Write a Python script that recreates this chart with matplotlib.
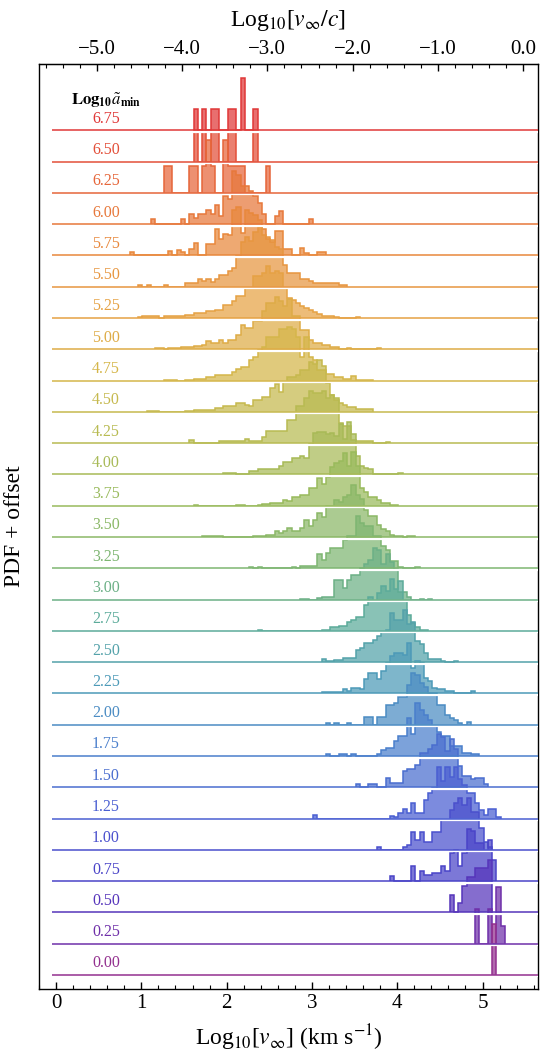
import numpy as np
import matplotlib
matplotlib.use("Agg")
import matplotlib.pyplot as plt
from matplotlib.colors import LinearSegmentedColormap
from matplotlib.ticker import MultipleLocator, FuncFormatter

plt.rcParams['font.family'] = 'serif'
plt.rcParams['font.serif'] = ['Liberation Serif', 'DejaVu Serif']
plt.rcParams['mathtext.fontset'] = 'stix'

# ---------------- data ----------------
# Each row: first bin left edge (Log10 v_inf) and histogram heights (PDF, arbitrary units)
BIN_WIDTH = 0.05

start_000 = 5.1125
pdf_000 = [51]
start_025 = 4.9125
pdf_025 = [35, 0, 0, 35, 0, 57, 18]
start_050 = 4.6125
pdf_050 = [17, 0, 9, 26, 35, 35, 44, 44, 44, 52]
start_075 = 3.9125
pdf_075 = [5, 0, 0, 0, 0, 15, 0, 10, 6, 6, 8, 8, 15, 10, 28, 31, 15, 28, 52, 50, 38, 38, 30, 41, 21]
start_100 = 3.7625
pdf_100 = [3, 0, 0, 0, 0, 0, 3, 5, 18, 10, 18, 8, 8, 18, 18, 30, 30, 40, 47, 52, 45, 52, 38, 38, 22, 8, 3]
start_125 = 3.0125
pdf_125 = [4, 0, 0, 0, 0, 0, 0, 0, 0, 0, 0, 0, 0, 0, 0, 0, 0, 0, 3, 2, 6, 10, 6, 16, 6, 6, 19, 26, 31,
           52, 38, 52, 42, 52, 40, 34, 26, 26, 16, 9, 4, 10, 10, 2]
start_150 = 3.5125
pdf_150 = [3, 0, 0, 3, 3, 0, 0, 9, 4, 4, 4, 16, 18, 18, 22, 34, 34, 38, 42, 53, 50, 36, 48, 38, 21, 11,
           11, 8, 9, 9, 3]
start_175 = 3.1625
pdf_175 = [2, 0, 0, 2, 2, 0, 2, 0, 0, 0, 0, 0, 2, 6, 8, 8, 15, 20, 20, 38, 22, 53, 46, 41, 36, 30, 24,
           20, 20, 10, 10, 10, 3, 3, 2, 2]
start_200 = 3.1625
pdf_200 = [2, 0, 2, 0, 0, 2, 0, 0, 0, 8, 8, 0, 8, 8, 20, 20, 22, 28, 28, 40, 52, 50, 42, 38, 32, 32,
           20, 20, 10, 7, 5, 2, 0, 3]
start_225 = 3.1125
pdf_225 = [1, 1, 1, 1, 1, 4, 2, 5, 5, 4, 14, 20, 20, 14, 22, 30, 37, 40, 40, 38, 50, 25, 32, 30, 15,
           12, 5, 4, 4, 2, 2, 0, 0, 0, 0, 2]
start_250 = 3.1125
pdf_250 = [3, 1, 1, 2, 2, 4, 4, 4, 12, 14, 19, 19, 22, 26, 30, 32, 49, 42, 42, 52, 38, 40, 21, 18, 9,
           3, 3, 3, 1, 0, 0, 1]
start_275 = 2.3625
pdf_275 = [1, 0, 0, 0, 0, 0, 0, 0, 0, 0, 0, 0, 0, 0, 0, 1, 1, 4, 4, 5, 5, 9, 11, 14, 14, 26, 34, 30,
           38, 45, 40, 52, 42, 50, 30, 16, 8, 4, 1, 1]
start_300 = 2.8625
pdf_300 = [1, 1, 0, 0, 2, 3, 3, 3, 20, 20, 12, 20, 25, 25, 32, 36, 40, 52, 50, 36, 46, 38, 31, 8, 8,
           3, 0, 0, 1, 0, 1]
start_325 = 2.2625
pdf_325 = [1, 0, 1, 0, 0, 0, 0, 0, 0, 0, 1, 0, 2, 2, 2, 2, 14, 8, 15, 20, 20, 20, 28, 32, 32, 52, 45,
           42, 42, 32, 32, 22, 18, 7, 7, 1, 0, 0, 0, 1]
start_350 = 1.7125
pdf_350 = [1, 1, 1, 1, 1, 0, 0, 0, 0, 0, 0, 0, 1, 1, 1, 2, 2, 6, 4, 6, 9, 6, 6, 9, 17, 11, 17, 24, 20,
           31, 31, 37, 35, 40, 42, 52, 42, 38, 27, 21, 21, 12, 8, 6, 2, 1, 1, 0, 1, 1]
start_375 = 1.6125
pdf_375 = [1, 0, 0, 0, 0, 0, 0, 0, 0, 0, 1, 1, 0, 0, 0, 1, 2, 2, 3, 3, 3, 6, 5, 9, 9, 11, 11, 18, 18,
           28, 22, 29, 39, 43, 45, 53, 40, 54, 40, 18, 14, 9, 9, 6, 3, 3, 1, 1]
start_400 = 1.9625
pdf_400 = [1, 1, 1, 0, 0, 0, 3, 3, 5, 5, 5, 5, 5, 8, 12, 12, 16, 16, 18, 16, 30, 41, 42, 42, 40, 41,
           38, 50, 35, 52, 40, 18, 8, 6, 5, 0, 0, 0, 0, 0, 0, 1]
start_425 = 1.5625
pdf_425 = [3, 0, 0, 0, 0, 0, 0, 2, 2, 2, 2, 2, 2, 4, 2, 2, 2, 6, 12, 12, 12, 12, 12, 23, 23, 37, 37,
           45, 52, 50, 50, 52, 45, 48, 45, 20, 17, 17, 3, 2, 2, 2, 2, 0, 0, 0, 1]
start_450 = 1.0625
pdf_450 = [1, 1, 1, 0, 0, 0, 0, 0, 0, 1, 1, 2, 2, 2, 2, 2, 4, 4, 6, 6, 6, 9, 9, 7, 6, 12, 12, 15, 15,
           24, 28, 20, 30, 35, 35, 37, 42, 42, 50, 48, 52, 46, 29, 17, 12, 9, 7, 5, 5, 3, 3, 3, 3]
start_475 = 1.2625
pdf_475 = [1, 1, 1, 0, 0, 1, 1, 2, 2, 2, 4, 4, 6, 6, 6, 6, 9, 12, 14, 14, 21, 24, 31, 34, 44, 44, 44,
           52, 52, 54, 52, 44, 24, 44, 24, 21, 11, 11, 7, 7, 4, 4, 2, 2, 5, 1, 1, 1, 1]
start_500 = 1.1625
pdf_500 = [1, 1, 0, 1, 1, 1, 2, 2, 2, 3, 3, 4, 8, 6, 6, 9, 6, 9, 9, 14, 24, 21, 21, 28, 28, 38, 46,
           46, 52, 48, 43, 50, 33, 33, 19, 19, 9, 6, 6, 4, 4, 2, 2, 0, 0, 1, 0, 0, 0, 0, 0, 0, 1]
start_525 = 0.9625
pdf_525 = [1, 2, 2, 2, 2, 0, 2, 2, 2, 2, 2, 3, 3, 5, 5, 5, 7, 7, 8, 8, 13, 13, 17, 22, 22, 30, 30, 42,
           42, 45, 52, 45, 47, 45, 30, 20, 18, 15, 12, 10, 8, 6, 4, 2, 2, 2, 1, 0, 0, 0, 0, 1]
start_550 = 0.9625
pdf_550 = [2, 0, 2, 0, 0, 0, 2, 0, 0, 0, 0, 4, 4, 4, 8, 6, 8, 5, 8, 12, 12, 16, 19, 31, 45, 50, 46,
           55, 60, 52, 50, 47, 40, 38, 22, 14, 14, 14, 8, 8, 6, 4, 4, 4, 4, 4, 4, 2, 2]
start_575 = 0.8625
pdf_575 = [3, 0, 0, 0, 0, 0, 0, 0, 0, 4, 0, 5, 3, 0, 6, 12, 0, 0, 11, 11, 26, 16, 21, 20, 45, 48, 22,
           45, 42, 40, 35, 26, 16, 13, 24, 24, 6, 6, 0, 0, 7, 2, 0, 0, 3, 3]
start_600 = 1.1125
pdf_600 = [5, 0, 0, 0, 0, 0, 0, 5, 0, 10, 6, 10, 10, 14, 10, 19, 8, 28, 25, 53, 49, 38, 38, 33, 28,
           21, 10, 0, 0, 8, 13, 0, 0, 0, 0, 0, 0, 5]
start_625 = 1.2625
pdf_625 = [27, 27, 0, 0, 0, 0, 27, 27, 0, 27, 53, 27, 0, 0, 53, 27, 27, 27, 27, 0, 0, 0, 0, 0, 27]
start_650 = 1.6125
pdf_650 = [31, 0, 31, 0, 31, 31, 0, 0, 31, 31, 0, 0, 0, 0, 31]
start_675 = 1.6125
pdf_675 = [21, 0, 21, 0, 21, 21, 0, 0, 21, 21, 0, 52, 0, 0, 21]

amin_labels = ['0.00', '0.25', '0.50', '0.75', '1.00', '1.25', '1.50', '1.75', '2.00', '2.25',
               '2.50', '2.75', '3.00', '3.25', '3.50', '3.75', '4.00', '4.25', '4.50', '4.75',
               '5.00', '5.25', '5.50', '5.75', '6.00', '6.25', '6.50', '6.75']
starts = [start_000, start_025, start_050, start_075, start_100, start_125, start_150, start_175,
          start_200, start_225, start_250, start_275, start_300, start_325, start_350, start_375,
          start_400, start_425, start_450, start_475, start_500, start_525, start_550, start_575,
          start_600, start_625, start_650, start_675]
pdfs = [pdf_000, pdf_025, pdf_050, pdf_075, pdf_100, pdf_125, pdf_150, pdf_175, pdf_200, pdf_225,
        pdf_250, pdf_275, pdf_300, pdf_325, pdf_350, pdf_375, pdf_400, pdf_425, pdf_450, pdf_475,
        pdf_500, pdf_525, pdf_550, pdf_575, pdf_600, pdf_625, pdf_650, pdf_675]

bottom_ticks = [0, 1, 2, 3, 4, 5]
top_ticks = [-5.0, -4.0, -3.0, -2.0, -1.0, 0.0]
LOG_C = np.log10(299792.458)

# ---------------- style ----------------
PDF_SCALE = 1 / 31.28
XMIN, XMAX = -0.2, 5.65
LINE_X0 = -0.05
cmap = LinearSegmentedColormap.from_list('ridge', [
    (0.000, '#93308f'), (0.037, '#6d30aa'), (0.074, '#5436bd'), (0.111, '#4a44c8'),
    (0.185, '#4a5fd2'), (0.259, '#4a7fcc'), (0.333, '#4d9ab8'), (0.407, '#5cab9a'),
    (0.481, '#7db672'), (0.556, '#99ba5c'), (0.630, '#b7bb52'), (0.704, '#d5b64a'),
    (0.778, '#e6a344'), (0.852, '#e8893c'), (0.926, '#e6683a'), (1.000, '#e03838')])

fig = plt.figure(figsize=(5.40, 10.57), dpi=100)
ax = fig.add_axes([39 / 540, 1 - 989 / 1057, (538 - 39) / 540, (989 - 64) / 1057])

n = len(pdfs)
for k in range(n):
    c = cmap(k / (n - 1))
    h = np.asarray(pdfs[k], dtype=float) * PDF_SCALE
    edges = starts[k] + BIN_WIDTH * np.arange(len(h) + 1)
    z = 200 - 3 * k   # lower rows drawn in front
    ax.stairs(k + h, edges, baseline=k, fill=True, color=c, alpha=0.72, lw=0, zorder=z)
    ax.stairs(k + h, edges, baseline=k, fill=False, color=c, lw=1.1, zorder=z + 1)
    # baselines on top of every histogram, with a thin white strip beneath
    ax.plot([LINE_X0, XMAX + 1], [k - 0.05, k - 0.05], color='white', lw=1.6,
            solid_capstyle='butt', zorder=400)
    ax.plot([LINE_X0, XMAX + 1], [k, k], color=c, lw=1.1, solid_capstyle='butt', zorder=401)
    ax.text(0.586, k + 0.37, amin_labels[k], color=c, ha='center', va='center',
            fontsize=11.5, zorder=500)

ax.text(0.586, n - 1 + 0.95, r'$\mathbf{Log_{10}}\boldsymbol{\tilde{a}}_{\mathbf{min}}$',
        ha='center', va='center', fontsize=12, zorder=500)

ax.set_xlim(XMIN, XMAX)
ax.set_ylim(-0.45, 29.12)
ax.set_xticks(bottom_ticks)
ax.xaxis.set_minor_locator(MultipleLocator(0.2))
ax.tick_params(axis='x', which='both', direction='in', top=False, bottom=True, labelsize=15)
ax.tick_params(axis='x', which='major', length=5, width=1.0)
ax.tick_params(axis='x', which='minor', length=2.8, width=0.8)
ax.tick_params(axis='y', left=False, right=False, labelleft=False)
for s in ax.spines.values():
    s.set_linewidth(1.0)

sec = ax.secondary_xaxis('top', functions=(lambda x: x - LOG_C, lambda x: x + LOG_C))
sec.set_xticks(top_ticks)
sec.xaxis.set_minor_locator(MultipleLocator(0.2))
sec.xaxis.set_major_formatter(FuncFormatter(
    lambda v, p: f"{v:.1f}".replace('-', '\u2212') if abs(v) > 1e-9 else "0.0"))
sec.tick_params(axis='x', which='both', direction='in', labelsize=15)
sec.tick_params(axis='x', which='major', length=5, width=1.0)
sec.tick_params(axis='x', which='minor', length=2.8, width=0.8)
sec.set_xlabel(r'Log$_{10}$[$v_{\infty}/c$]', fontsize=17, labelpad=10)

ax.set_xlabel(r'Log$_{10}$[$v_{\infty}$] (km s$^{-1}$)', fontsize=17, labelpad=7)
ax.set_ylabel('PDF + offset', fontsize=17, labelpad=10)

fig.savefig('out.png', dpi=100)
